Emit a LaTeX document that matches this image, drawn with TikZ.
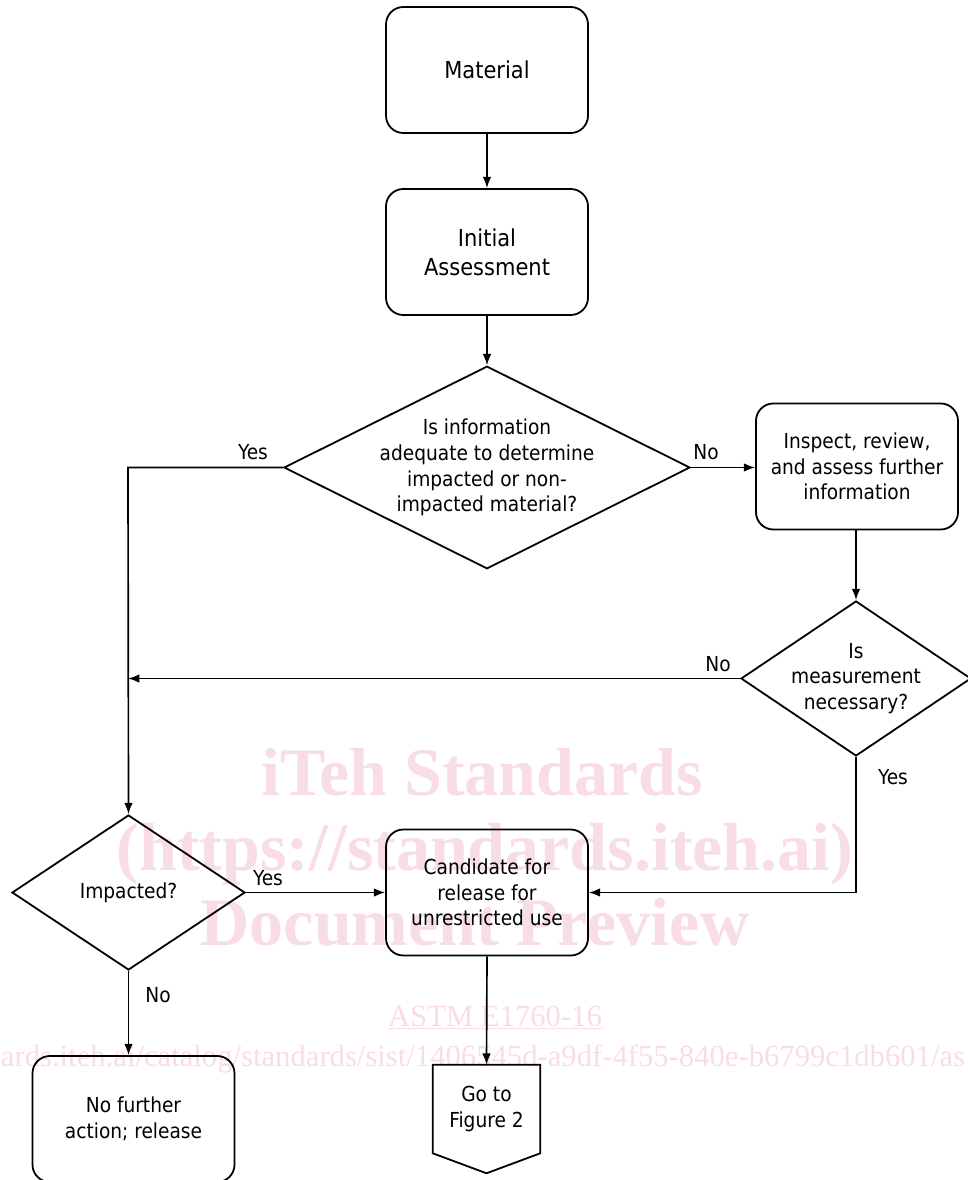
\documentclass[tikz,border=0pt]{standalone}
\usepackage{fontspec}
\setmainfont{DejaVu Sans Condensed}
\newfontfamily\wmfont{Liberation Serif}
\usetikzlibrary{shapes.geometric,arrows.meta,calc}
\definecolor{wmpink}{RGB}{248,220,230}
\newcommand\myfs{\fontsize{15.5pt}{19.2pt}\selectfont}
\newcommand\mybigfs{\fontsize{17.5pt}{21.75pt}\selectfont}
\begin{document}
\begin{tikzpicture}[x=0.75pt,y=-0.75pt,
  box/.style={draw,line width=1.35pt,rounded corners=13pt,minimum width=151.5pt,minimum height=94.5pt,inner sep=0pt,align=center,font=\myfs},
  bigbox/.style={box,font=\mybigfs},
  dia/.style={draw,diamond,line width=1.35pt,inner sep=0pt},
  txt/.style={align=center,font=\myfs,inner sep=0pt},
  lbl/.style={font=\myfs,inner sep=0pt},
  arr/.style={-{Latex[length=8.5pt,width=6.5pt]},line width=1.25pt},
  wmbig/.style={text=wmpink,font=\wmfont\bfseries\fontsize{51pt}{51pt}\selectfont,anchor=base,inner sep=0pt},
  wmsmall/.style={text=wmpink,font=\wmfont\fontsize{23pt}{23pt}\selectfont,anchor=base,inner sep=0pt}]
\useasboundingbox (0,0) rectangle (967,1180);
% watermark
\node[wmbig] (w1) at (482,795) {iTeh Standards};
\node[wmbig] (w2) at (485,870) {(https://standards.iteh.ai)};
\node[wmbig] (w3) at (475,945) {Document Preview};
\node[wmsmall] (w4) at (495,1026) {\underline{ASTM E1760-16}};
\node[wmsmall] (w5) at (483,1066) {ards.iteh.ai/catalog/standards/sist/1406545d-a9df-4f55-840e-b6799c1db601/as};
% boxes
\node[bigbox] (mat) at (487,70) {Material};
\node[bigbox] (ini) at (487,252) {Initial\\Assessment};
\node[dia,minimum width=304.5pt,minimum height=152pt] (d1) at (487,467.5) {};
\node[txt] (d1t) at (d1) {Is information\\adequate to determine\\impacted or non-\\impacted material?};
\node[box] (ins) at (857,466.5) {Inspect, review,\\and assess further\\information};
\node[dia,minimum width=172.5pt,minimum height=116.25pt] (d2) at (856,678.5) {};
\node[txt] (d2t) at (d2) {Is\\measurement\\necessary?};
\node[dia,minimum width=174.75pt,minimum height=116.25pt] (d3) at (128.5,892.5) {};
\node[txt] (d3t) at (d3) {Impacted?};
\node[box] (cand) at (487,892.5) {Candidate for\\release for\\unrestricted use};
\node[box] (nof) at (133.5,1119) {No further\\action; release};
\node[minimum width=80.25pt,minimum height=66pt,inner sep=0pt,align=center,font=\myfs] (goto) at (486.5,1109) {Go to\\Figure 2};
\draw[line width=1.35pt,line join=miter] (goto.north west) -- (goto.north east) -- (goto.south east) -- ([yshift=-15pt]goto.south) -- (goto.south west) -- cycle;
% junctions
\coordinate (j1) at (128,467.5);
\coordinate (j2) at (128,678.5);
% connectors
\draw[arr] (mat) -- (ini);
\draw[arr] (ini) -- (d1.north);
\draw[arr] (d1.east) -- (ins.west |- d1.east);
\draw[arr] (ins.south -| d2.north) -- (d2.north);
\draw[arr] (d1.west) -- (j1) -- (d3.north);
\draw[arr] (d2.west) -- (j2);
\draw[arr] (d2.south) |- (cand.east);
\draw[arr] (d3.east) -- (cand.west);
\draw[arr] (d3.south) -- (d3.south |- nof.north);
\draw[arr] (cand.south) -- (goto.north);
% labels
\node[lbl] (l1) at (253,452) {Yes};
\node[lbl] (l2) at (706,452) {No};
\node[lbl] (l3) at (718,664) {No};
\node[lbl] (l4) at (893,777) {Yes};
\node[lbl] (l5) at (268,878) {Yes};
\node[lbl] (l6) at (158,995) {No};
\end{tikzpicture}
\end{document}
